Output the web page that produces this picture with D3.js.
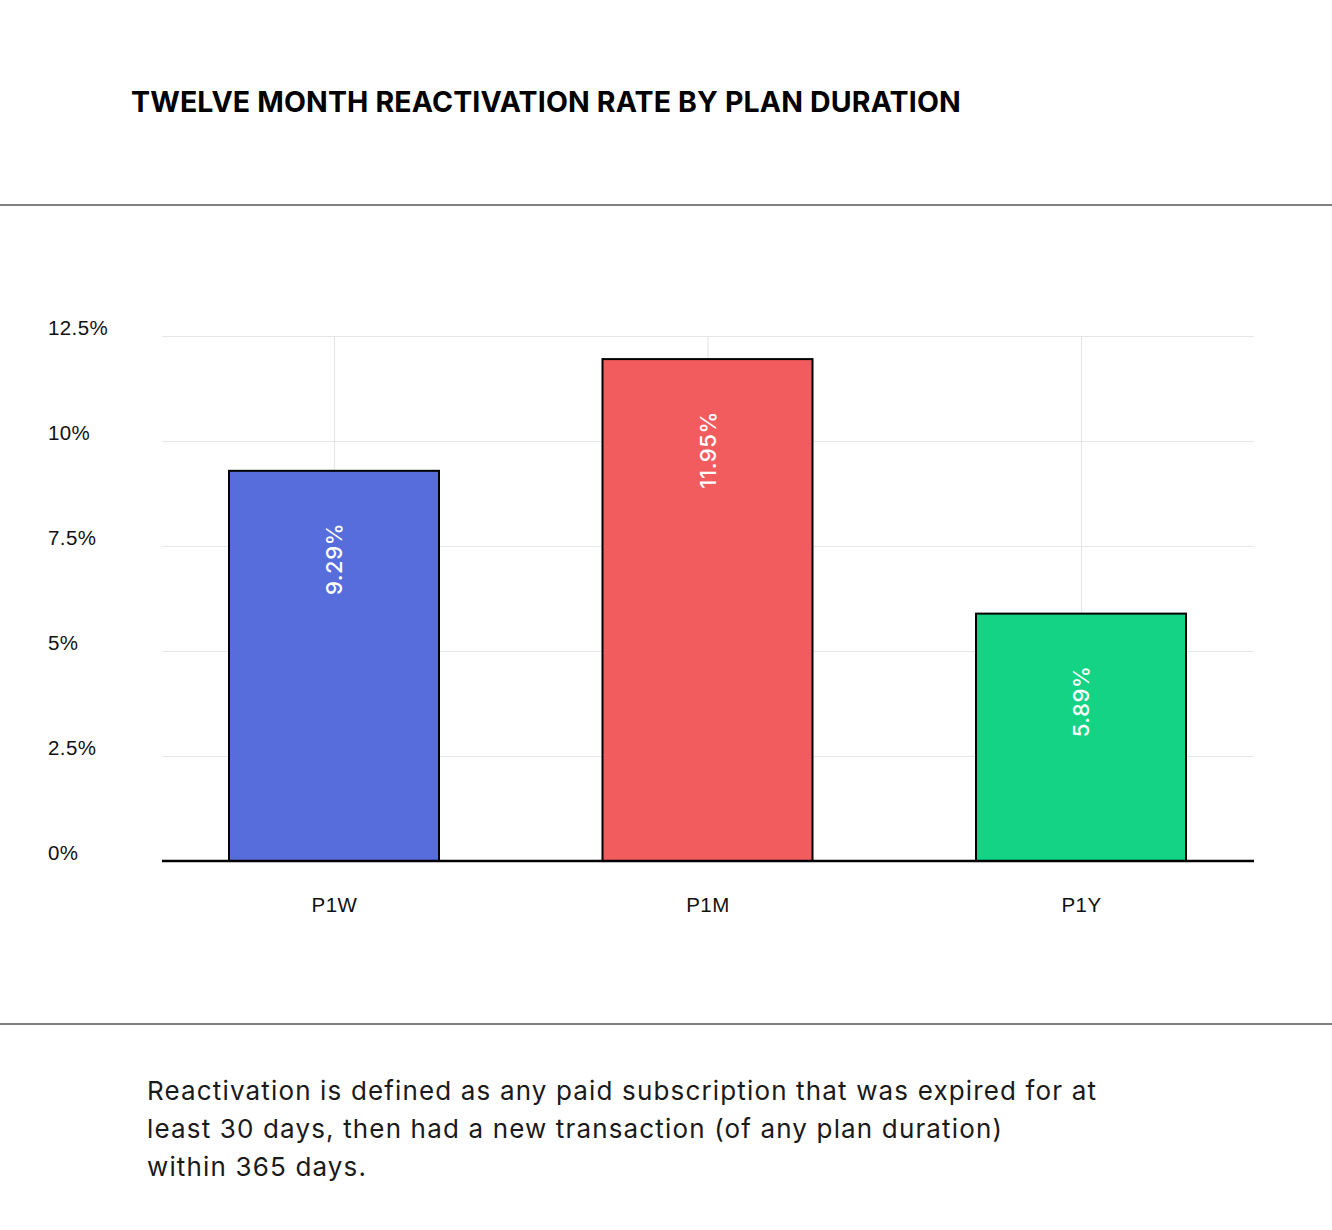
<!DOCTYPE html>
<html>
<head>
<meta charset="utf-8">
<script src="https://cdn.jsdelivr.net/npm/d3@7"></script>
<style>
  body { margin: 0; background: #fff; }
  svg { display: block; font-family: Inter, "Noto Sans", sans-serif; }
</style>
</head>
<body>
<div id="art"></div>
<script>
const categories = ["P1W", "P1M", "P1Y"];
const rates = [9.29, 11.95, 5.89];
const barColours = ["#566ddb", "#f25c5f", "#14d385"];
const yTicks = [0, 2.5, 5, 7.5, 10, 12.5];
const yTickLabels = ["0%", "2.5%", "5%", "7.5%", "10%", "12.5%"];

const title = "TWELVE MONTH REACTIVATION RATE BY PLAN DURATION";
const footnote = [
  "Reactivation is defined as any paid subscription that was expired for at",
  "least 30 days, then had a new transaction (of any plan duration)",
  "within 365 days."
];

function art() {
  const width = 1332, height = 1230;
  const left = 162, right = 1254, top = 336, bottom = 861;

  const svg = d3.select("#art").append("svg")
    .attr("width", width)
    .attr("height", height);

  // title + rules
  svg.append("text")
    .attr("x", 131).attr("y", 112)
    .attr("font-size", 28.5).attr("font-weight", 700)
    .attr("letter-spacing", 0.15)
    .attr("fill", "#000")
    .text(title);

  svg.selectAll("line.rule")
    .data([205, 1024])
    .enter().append("line")
    .attr("class", "rule")
    .attr("x1", 0).attr("x2", width)
    .attr("y1", d => d).attr("y2", d => d)
    .attr("stroke", "#555").attr("stroke-width", 1.5);

  const x = d3.scalePoint()
    .domain(categories)
    .range([334, 1081]);

  const y = d3.scaleLinear()
    .domain([0, 12.5])
    .range([bottom, top]);

  const barW = 210;

  // horizontal grid + labels
  const yAxis = svg.append("g")
    .attr("transform", `translate(${left},0)`)
    .call(d3.axisLeft(y)
      .tickValues(yTicks)
      .tickSize(-(right - left))
      .tickFormat((d, i) => yTickLabels[i]));
  yAxis.select(".domain").remove();
  yAxis.selectAll(".tick line").attr("stroke", "#e6e6e6").attr("stroke-width", 1.2);
  yAxis.selectAll(".tick text")
    .attr("x", 48 - left)
    .attr("dy", -2)
    .attr("text-anchor", "start")
    .attr("font-size", 20.5)
    .attr("font-weight", 500)
    .attr("letter-spacing", 0.4)
    .attr("fill", "#111");

  // vertical grid + category labels
  const xAxis = svg.append("g")
    .attr("transform", `translate(0,${bottom})`)
    .call(d3.axisBottom(x).tickSize(-(bottom - top)).tickPadding(0));
  xAxis.select(".domain").remove();
  xAxis.selectAll(".tick line").attr("stroke", "#e6e6e6").attr("stroke-width", 1.2);
  xAxis.selectAll(".tick text")
    .attr("y", 51)
    .attr("dy", 0)
    .attr("font-size", 20.5)
    .attr("font-weight", 500)
    .attr("letter-spacing", 0.5)
    .attr("fill", "#111");

  // bars
  svg.selectAll("rect.bar")
    .data(rates)
    .enter().append("rect")
    .attr("class", "bar")
    .attr("x", (d, i) => x(categories[i]) - barW / 2)
    .attr("y", d => y(d))
    .attr("width", barW)
    .attr("height", d => bottom - y(d))
    .attr("fill", (d, i) => barColours[i])
    .attr("stroke", "#000")
    .attr("stroke-width", 2);

  // value labels
  svg.selectAll("text.value")
    .data(rates)
    .enter().append("text")
    .attr("class", "value")
    .attr("transform", (d, i) => `translate(${x(categories[i]) + 8},${y(d) + 52}) rotate(-90)`)
    .attr("text-anchor", "end")
    .attr("font-size", 22)
    .attr("font-weight", 500)
    .attr("letter-spacing", 0.6)
    .attr("fill", "#fff")
    .text(d => d + "%");

  // baseline
  svg.append("line")
    .attr("x1", left).attr("x2", right)
    .attr("y1", bottom).attr("y2", bottom)
    .attr("stroke", "#000").attr("stroke-width", 2.5);

  // footnote
  svg.append("text")
    .attr("x", 147).attr("y", 1100)
    .attr("font-size", 26)
    .attr("letter-spacing", 1.15)
    .attr("fill", "#1a1a1a")
    .selectAll("tspan")
    .data(footnote)
    .enter().append("tspan")
    .attr("x", 147)
    .attr("dy", (d, i) => i === 0 ? 0 : 38)
    .text(d => d);
}

window.onload = function () {
  art();
};
</script>
</body>
</html>
